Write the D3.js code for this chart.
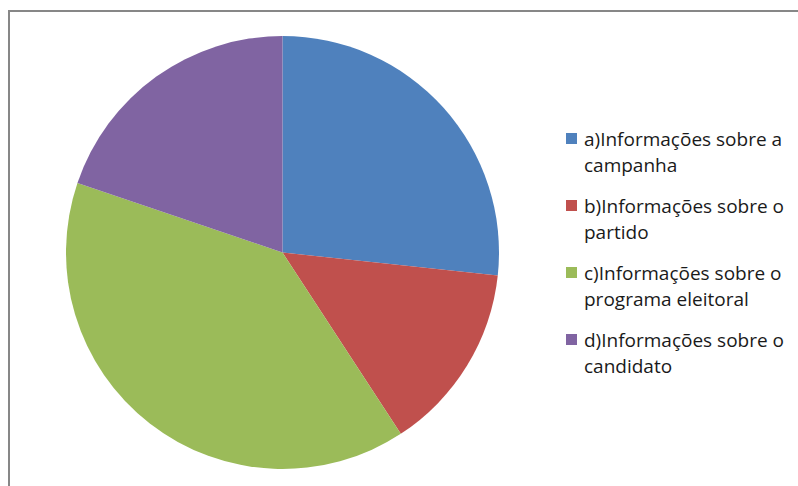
<!DOCTYPE html>
<html>
<head>
<meta charset="utf-8">
<script src="https://cdn.jsdelivr.net/npm/d3@7"></script>
<style>
  html, body { margin: 0; padding: 0; background: #fff; }
  svg { display: block; }
</style>
</head>
<body>
<svg id="chart" width="798" height="486"></svg>
<script>
// Share of respondents by type of information sought
const categories = [
  ["a)Informações sobre a", "campanha"],
  ["b)Informações sobre o", "partido"],
  ["c)Informações sobre o", "programa eleitoral"],
  ["d)Informações sobre o", "candidato"]
];
const values = [26.7, 14.1, 39.4, 19.8];
const colors = ["#4F81BD", "#C0504D", "#9BBB59", "#8064A2"];

const svg = d3.select("#chart");

// chart frame
svg.append("rect")
  .attr("x", 9).attr("y", 11)
  .attr("width", 820).attr("height", 500)
  .attr("fill", "#fff")
  .attr("stroke", "#878787")
  .attr("stroke-width", 2);

const cx = 282.5, cy = 252.5, radius = 216.5;

const pie = d3.pie().sort(null).value(d => d)(values);
const arc = d3.arc().innerRadius(0).outerRadius(radius);

svg.append("g")
  .attr("transform", `translate(${cx},${cy})`)
  .selectAll("path")
  .data(pie)
  .join("path")
  .attr("d", arc)
  .attr("fill", (d, i) => colors[i]);

// legend
const legend = svg.append("g").attr("transform", "translate(566,0)");
const rowY = d3.scalePoint().domain(d3.range(categories.length)).range([139, 340]);

const item = legend.selectAll("g")
  .data(categories)
  .join("g")
  .attr("transform", (d, i) => `translate(0,${rowY(i)})`);

item.append("rect")
  .attr("x", 0).attr("y", -6)
  .attr("width", 11).attr("height", 11)
  .attr("fill", (d, i) => colors[i]);

item.append("text")
  .attr("x", 18)
  .attr("font-family", "'Open Sans', sans-serif")
  .attr("font-size", 19)
  .attr("fill", "#1a1a1a")
  .selectAll("tspan")
  .data(d => d)
  .join("tspan")
  .attr("x", 18)
  .attr("y", (d, j) => j * 26)
  .attr("dy", "0.35em")
  .text(d => d);
</script>
</body>
</html>
